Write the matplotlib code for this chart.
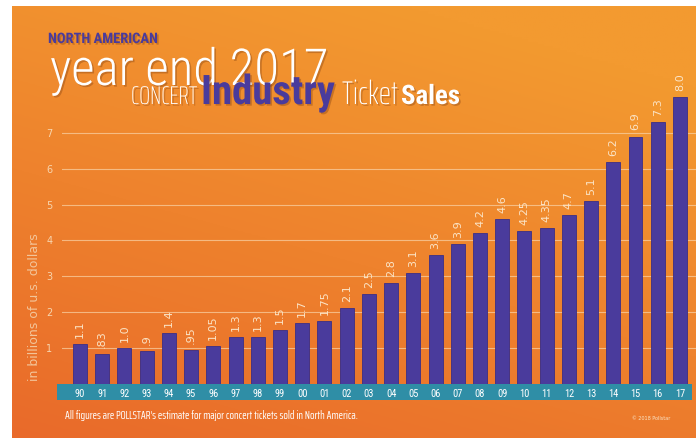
import numpy as np
import matplotlib
matplotlib.use('Agg')  # Non-interactive backend
import matplotlib.pyplot as plt
from matplotlib.patches import Rectangle
from matplotlib import patheffects as pe

# Ticket sales by year, billions of U.S. dollars
years = ['90', '91', '92', '93', '94', '95', '96', '97', '98', '99',
         '00', '01', '02', '03', '04', '05', '06', '07', '08', '09',
         '10', '11', '12', '13', '14', '15', '16', '17']
sales_labels = ['1.1', '.83', '1.0', '.9', '1.4', '.95', '1.05', '1.3', '1.3', '1.5',
                '1.7', '1.75', '2.1', '2.5', '2.8', '3.1', '3.6', '3.9', '4.2', '4.6',
                '4.25', '4.35', '4.7', '5.1', '6.2', '6.9', '7.3', '8.0']
sales = [float(s) for s in sales_labels]
y_ticks = [1, 2, 3, 4, 5, 6, 7]

W, H = 696, 438
PURPLE = '#4a3b9c'
CREAM = '#fbe4c6'
COND = ['Roboto Condensed', 'Liberation Sans', 'DejaVu Sans']
XCOND = ['Saira ExtraCondensed', 'Roboto Condensed', 'DejaVu Sans']


def px(x, y, w, h):
    """Pixel box (top-left origin) -> figure fraction rect."""
    return [x / W, 1 - (y + h) / H, w / W, h / H]


fig = plt.figure(figsize=(W / 100, H / 100), dpi=100)
fig.patch.set_facecolor('white')
renderer = fig.canvas.get_renderer()

# orange backdrop, lighter top-right, redder bottom-left
bg = fig.add_axes(px(12, 6, W - 12, H - 6))
yy, xx = np.mgrid[0:1:200j, 0:1:300j]
t = np.clip(0.8 * yy + 0.35 * (1 - xx) - 0.15, 0, 1)
light = np.array([243, 154, 48]) / 255
dark = np.array([233, 106, 42]) / 255
bg.imshow(light + (dark - light) * t[..., None], aspect='auto', extent=(0, 1, 0, 1))
bg.axis('off')

# teal strip behind the year labels
bg.add_patch(Rectangle((57 / W, 1 - 400 / H), 635 / W, 16 / H, transform=fig.transFigure,
                       facecolor='#2f8ea6', edgecolor='none', clip_on=False))

unit = 35.8
ax = fig.add_axes(px(62, 60, W - 62, 383.6 - 60))
ax.set_facecolor('none')
ax.set_ylim(0, (383.6 - 60) / unit)
ax.set_xlim((62 - 80) / 22.22, (W - 80) / 22.22)

ax.bar(range(len(years)), sales, width=0.63, color=PURPLE, edgecolor='#3b2e85',
       linewidth=0.6, zorder=2)
for i, (v, lab) in enumerate(zip(sales, sales_labels)):
    ax.text(i, v + 0.17, lab, rotation=90, ha='center', va='bottom',
            fontsize=8, color=CREAM, zorder=3)

ax.set_yticks(y_ticks)
ax.grid(axis='y', color='#f9d3a8', linewidth=0.8, alpha=0.7, zorder=0)
ax.set_axisbelow(True)
ax.tick_params(axis='y', length=0, pad=7, labelsize=7, labelcolor='#f7d5ae')
ax.set_xticks(range(len(years)), years)
ax.tick_params(axis='x', length=0, pad=4, labelsize=7.5, labelcolor='white')
for lbl in ax.get_xticklabels():
    lbl.set_family(COND)
for s in ax.spines.values():
    s.set_visible(False)

fig.text(35 / W, 1 - 307 / H, 'in billions of u.s. dollars', rotation=90,
         ha='center', va='center', fontsize=9, color='#f3c59a')

# title block
shadow = [pe.SimplePatchShadow(offset=(1.2, -1.2), shadow_rgbFace='#7a3a10', alpha=0.35),
          pe.Normal()]


def fitted_text(x0, x1, y, s, color, weight='normal', family=COND, effects=shadow):
    """Place text from x0 to x1 (pixels) on baseline y, sizing it to that width."""
    txt = fig.text(x0 / W, 1 - y / H, s, ha='left', va='baseline', fontsize=20,
                   color=color, fontweight=weight, family=family, path_effects=effects)
    width = txt.get_window_extent(renderer).width
    txt.set_fontsize(20 * (x1 - x0) / width)
    return txt


fitted_text(48, 158, 43, 'NORTH AMERICAN', PURPLE, 'bold')
fitted_text(50, 328, 85, 'year end 2017', 'white', 'light')
fitted_text(131, 197, 104, 'CONCERT', 'white', 'light', family=XCOND)
fitted_text(201, 335, 104, 'Industry', PURPLE, 'bold')
fitted_text(342, 398, 104, 'Ticket', 'white', 'light', family=XCOND)
fitted_text(401, 460, 104, 'Sales', 'white', 'bold')

fitted_text(65, 357, 419,
            "All figures are POLLSTAR's estimate for major concert tickets sold in North America.",
            'white', family=XCOND, effects=None)
fig.text(632 / W, 1 - 418 / H, '\u00a9 2018 Pollstar', ha='left', va='center',
         fontsize=3.5, color=CREAM)

fig.savefig('out.png', dpi=100)
